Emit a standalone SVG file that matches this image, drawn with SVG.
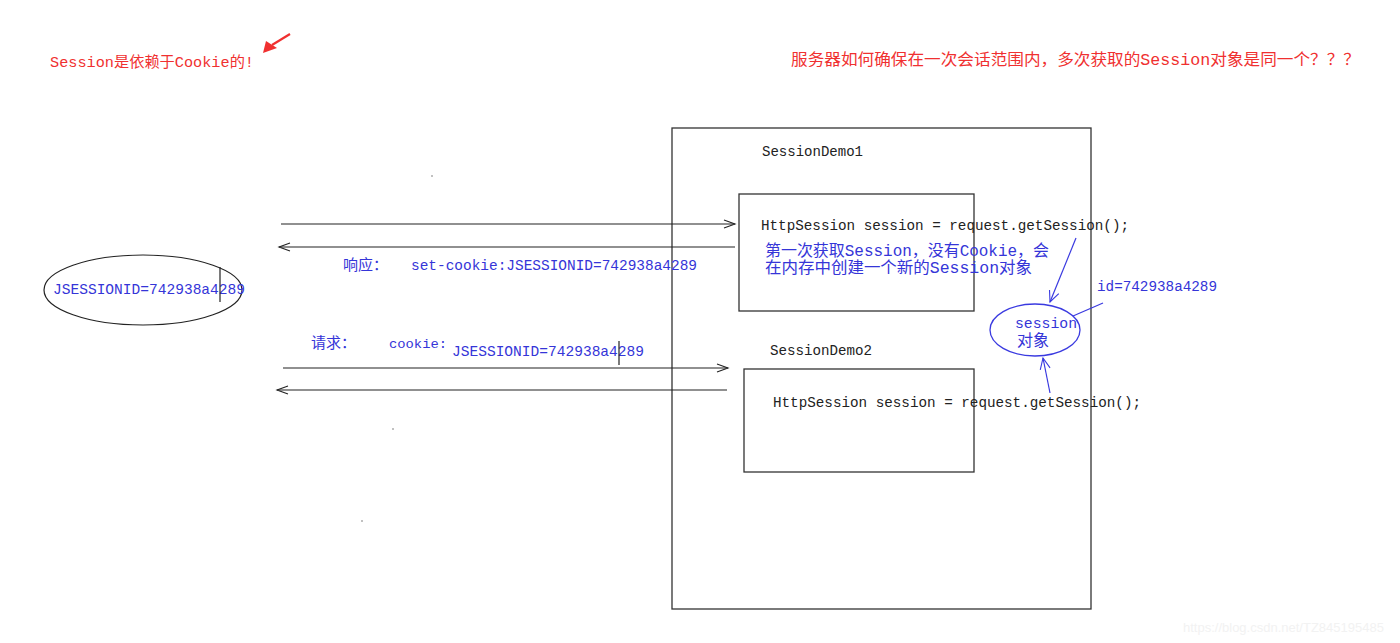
<svg xmlns="http://www.w3.org/2000/svg" width="1400" height="643" viewBox="0 0 1400 643">
<style>
.box{fill:none;stroke:#333;stroke-width:1.3}
.conn{fill:none;stroke:#222;stroke-width:1.2}
.blue{fill:none;stroke:#3a3ae0;stroke-width:1.2}
.code{font-family:"Liberation Mono","Noto Sans CJK SC",monospace;font-size:14px;fill:#222}
.bt{font-family:"Liberation Mono","Noto Sans CJK SC",monospace;fill:#3535d8}
.rt{font-family:"Liberation Mono","Noto Sans CJK SC",monospace;fill:#f03030}
</style>
<defs>
<marker id="open" markerWidth="14" markerHeight="10" refX="12" refY="5" orient="auto" markerUnits="userSpaceOnUse">
<path d="M1,1 L12,5 L1,9" fill="none" stroke="#222" stroke-width="1.1"/>
</marker>
<marker id="openb" markerWidth="14" markerHeight="12" refX="12" refY="6" orient="auto" markerUnits="userSpaceOnUse">
<path d="M1,1 L12,6 L1,11" fill="none" stroke="#3a3ae0" stroke-width="1.1"/>
</marker>
</defs>
<rect width="1400" height="643" fill="#fff"/>

<g id="note-left">
<text class="rt" x="50" y="67" font-size="15" textLength="204" lengthAdjust="spacingAndGlyphs">Session是依赖于Cookie的!</text>
<path d="M290,34 L272,45" stroke="#f03030" stroke-width="2.2" fill="none"/>
<polygon points="263,53 266,41 277,48" fill="#f03030"/>
</g>

<g id="note-right">
<text class="rt" x="791" y="65" font-size="16" textLength="569" lengthAdjust="spacingAndGlyphs">服务器如何确保在一次会话范围内，多次获取的Session对象是同一个？？？</text>
</g>

<g id="server">
<rect class="box" x="672" y="128" width="419" height="481"/>
<text class="code" x="762" y="156" textLength="101" lengthAdjust="spacingAndGlyphs">SessionDemo1</text>
<text class="code" x="770" y="355" textLength="102" lengthAdjust="spacingAndGlyphs">SessionDemo2</text>
</g>

<g id="demo1">
<rect class="box" x="739" y="194" width="235" height="117"/>
<text class="code" x="761" y="230" font-size="14.5" textLength="368" lengthAdjust="spacingAndGlyphs">HttpSession session = request.getSession();</text>
<text class="bt" x="765" y="256" font-size="16" textLength="284" lengthAdjust="spacingAndGlyphs">第一次获取Session，没有Cookie，会</text>
<text class="bt" x="765" y="273" font-size="16" textLength="267" lengthAdjust="spacingAndGlyphs">在内存中创建一个新的Session对象</text>
</g>

<g id="demo2">
<rect class="box" x="744" y="369" width="230" height="103"/>
<text class="code" x="773" y="407" font-size="14.5" textLength="368" lengthAdjust="spacingAndGlyphs">HttpSession session = request.getSession();</text>
</g>

<g id="browser-cookie">
<ellipse cx="143" cy="290" rx="99" ry="35" fill="none" stroke="#222" stroke-width="1.2"/>
<text class="bt" x="53" y="294" font-size="15" textLength="192" lengthAdjust="spacingAndGlyphs">JSESSIONID=742938a4289</text>
<line x1="220" y1="267" x2="220" y2="302" stroke="#222" stroke-width="1.2"/>
</g>

<g id="session-object">
<ellipse cx="1035" cy="330" rx="45" ry="26" fill="none" stroke="#3a3ae0" stroke-width="1.3"/>
<text class="bt" x="1015" y="328" font-size="14" textLength="62" lengthAdjust="spacingAndGlyphs">session</text>
<text class="bt" x="1017" y="346" font-size="16">对象</text>
<text class="bt" x="1097" y="291" font-size="14.5" textLength="120" lengthAdjust="spacingAndGlyphs">id=742938a4289</text>
</g>

<g id="labels">
<text class="bt" x="343" y="270" font-size="15">响应：</text>
<text class="bt" x="411" y="270" font-size="14.5" textLength="286" lengthAdjust="spacingAndGlyphs">set-cookie:JSESSIONID=742938a4289</text>
<text class="bt" x="311" y="348" font-size="15">请求：</text>
<text class="bt" x="389" y="348" font-size="13" textLength="58" lengthAdjust="spacingAndGlyphs">cookie:</text>
<text class="bt" x="452" y="356" font-size="15" textLength="192" lengthAdjust="spacingAndGlyphs">JSESSIONID=742938a4289</text>
<line x1="619" y1="341" x2="619" y2="365" stroke="#222" stroke-width="1.2"/>
</g>

<g id="connectors">
<line class="conn" x1="281" y1="224" x2="735" y2="224" marker-end="url(#open)"/>
<line class="conn" x1="735" y1="247" x2="279" y2="247" marker-end="url(#open)"/>
<line class="conn" x1="283" y1="368" x2="728" y2="368" marker-end="url(#open)"/>
<line class="conn" x1="727" y1="390" x2="277" y2="390" marker-end="url(#open)"/>
<line class="blue" x1="1076" y1="238" x2="1050" y2="302" marker-end="url(#openb)"/>
<line class="blue" x1="1050" y1="393" x2="1043" y2="358" marker-end="url(#openb)"/>
<line class="blue" x1="1103" y1="303" x2="1073" y2="316"/>
</g>

<g id="specks" fill="#555">
<circle cx="432" cy="176" r="0.7"/>
<circle cx="393" cy="429" r="0.7"/>
<circle cx="362" cy="521" r="0.7"/>
</g>

<text x="1183" y="632" font-family="Liberation Sans, sans-serif" font-size="13" fill="#f2f2f2">https://blog.csdn.net/TZ845195485</text>
</svg>
